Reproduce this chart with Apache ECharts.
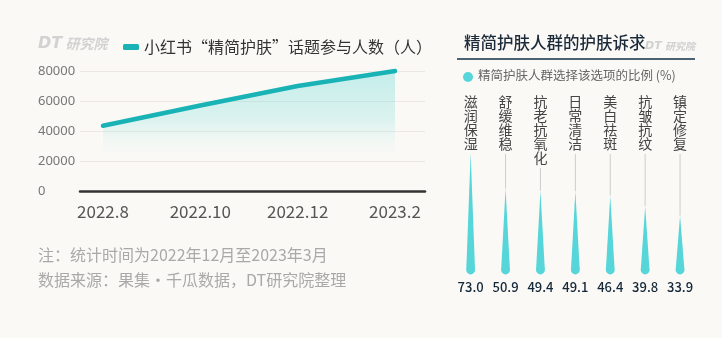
<!DOCTYPE html>
<html>
<head>
<meta charset="utf-8">
<script src="https://cdn.jsdelivr.net/npm/echarts@6/dist/echarts.min.js"></script>
<style>
  html, body { margin: 0; padding: 0; background: #fbf9f6; }
  #c { width: 722px; height: 338px; }
</style>
</head>
<body>
<div id="c"></div>
<script>
// Left panel: topic participants over time
const months = ['2022.8', '2022.10', '2022.12', '2023.2'];
const participants = [43500, 57000, 70000, 80000];
const yTicks = [0, 20000, 40000, 60000, 80000];
const lineName = '小红书“精简护肤”话题参与人数（人）';

// Right panel: skincare needs of the minimal-skincare group (%)
const needs = ['滋润保湿', '舒缓维稳', '抗老抗氧化', '日常清洁', '美白祛斑', '抗皱抗纹', '镇定修复'];
const shares = [73.0, 50.9, 49.4, 49.1, 46.4, 39.8, 33.9];

const notes = ['注：统计时间为2022年12月至2023年3月', '数据来源：果集·千瓜数据，DT研究院整理'];

const CJK = '"Noto Sans CJK SC", "Noto Sans", sans-serif';
const TEAL = '#19b3b6';
const DROP = '#57d6d9';

const chart = echarts.init(document.getElementById('c'), null, { renderer: 'canvas' });

function dropItem(params, api) {
  const i = api.value(0);
  const v = api.value(1);
  const tip = api.coord([i, v]);
  const base = api.coord([i, 0]);
  const cx = tip[0];
  const r = 4.4;
  const chars = needs[i].split('');
  const textTop = 95, lh = 14;
  const textBottom = textTop + chars.length * lh + 3;
  const children = [
    {
      type: 'text',
      style: {
        text: chars.join('\n'), x: cx, y: textTop,
        align: 'center', verticalAlign: 'top',
        fontSize: 14, lineHeight: lh, fontFamily: CJK, fill: '#444'
      }
    }
  ];
  if (tip[1] > textBottom) {
    children.push({
      type: 'line',
      shape: { x1: cx, y1: textBottom, x2: cx, y2: tip[1] },
      style: { stroke: '#cdcdcd', lineWidth: 1 }
    });
  }
  children.push({
    type: 'polygon',
    shape: { points: [[cx, tip[1]], [cx + r, base[1]], [cx - r, base[1]]] },
    style: { fill: DROP }
  });
  children.push({
    type: 'circle',
    shape: { cx: cx, cy: base[1], r: r },
    style: { fill: DROP }
  });
  children.push({
    type: 'text',
    style: {
      text: v.toFixed(1), x: cx, y: 287,
      align: 'center', verticalAlign: 'middle',
      fontSize: 13, fontWeight: 500, fontFamily: CJK, fill: '#14283a'
    }
  });
  return { type: 'group', children: children };
}

const option = {
  backgroundColor: '#fbf9f6',
  animation: false,
  textStyle: { fontFamily: CJK },
  legend: {
    data: [lineName],
    left: 118, top: 34,
    icon: 'roundRect', itemWidth: 16, itemHeight: 6,
    itemGap: 10,
    textStyle: { fontSize: 16, color: '#333', fontFamily: CJK }
  },
  grid: [
    { left: 80, top: 71, width: 345, height: 120 },
    { left: 453.2, top: 109.7, width: 244.3, height: 160.3 }
  ],
  xAxis: [
    {
      type: 'value', gridIndex: 0,
      min: -0.236, max: 3.308,
      axisLine: { show: true, lineStyle: { color: '#333', width: 2.5 } },
      axisTick: { show: false },
      splitLine: { show: false },
      axisLabel: {
        customValues: months.map((m, i) => i),
        formatter: v => months[Math.round(v)],
        fontSize: 17, color: '#555', margin: 12
      }
    },
    {
      type: 'category', gridIndex: 1,
      data: needs, show: false
    }
  ],
  yAxis: [
    {
      type: 'value', gridIndex: 0,
      min: yTicks[0], max: yTicks[yTicks.length - 1], interval: yTicks[1] - yTicks[0],
      axisLine: { show: false }, axisTick: { show: false },
      splitLine: { lineStyle: { color: '#ebe7e2', width: 1 } },
      axisLabel: {
        align: 'left', margin: 42, fontSize: 13, color: '#777',
        fontFamily: '"Noto Sans", sans-serif',
        formatter: v => String(v)
      }
    },
    {
      type: 'value', gridIndex: 1, min: 0, max: 100, show: false
    }
  ],
  series: [
    {
      name: lineName,
      type: 'line',
      xAxisIndex: 0, yAxisIndex: 0,
      data: participants.map((v, i) => [i, v]),
      showSymbol: false,
      clip: false,
      itemStyle: { color: TEAL },
      lineStyle: { color: TEAL, width: 4.5, cap: 'round', join: 'round' },
      areaStyle: {
        color: new echarts.graphic.LinearGradient(0, 0, 0, 1, [
          { offset: 0, color: 'rgba(105,218,214,0.55)' },
          { offset: 0.4, color: 'rgba(140,226,222,0.42)' },
          { offset: 0.72, color: 'rgba(200,240,238,0)' },
          { offset: 1, color: 'rgba(200,240,238,0)' }
        ])
      }
    },
    {
      type: 'custom',
      xAxisIndex: 1, yAxisIndex: 1,
      data: shares.map((v, i) => [i, v]),
      renderItem: dropItem,
      clip: false
    }
  ],
  graphic: [
    {
      type: 'text', left: 38, top: 36,
      style: {
        text: '{a|DT} {b|研究院}',
        rich: {
          a: { fontSize: 16, fontWeight: 900, fontStyle: 'italic', fill: '#d2d2d2', fontFamily: '"DejaVu Sans", sans-serif' },
          b: { fontSize: 14, fontWeight: 700, fontStyle: 'italic', fill: '#d2d2d2', fontFamily: CJK }
        }
      }
    },
    {
      type: 'text', left: 38, top: 247,
      style: { text: notes[0], fontSize: 16, fill: '#a9a9a9', fontFamily: CJK }
    },
    {
      type: 'text', left: 38, top: 272,
      style: { text: notes[1], fontSize: 16, fill: '#a9a9a9', fontFamily: CJK }
    },
    {
      type: 'text', left: 464, top: 34,
      style: { text: '精简护肤人群的护肤诉求', fontSize: 16.5, fontWeight: 500, fill: '#1c2b3a', fontFamily: CJK }
    },
    {
      type: 'text', left: 645, top: 40,
      style: {
        text: '{a|DT} {b|研究院}',
        rich: {
          a: { fontSize: 11, fontWeight: 900, fontStyle: 'italic', fill: '#d0d0d0', fontFamily: '"DejaVu Sans", sans-serif' },
          b: { fontSize: 10, fontWeight: 700, fontStyle: 'italic', fill: '#d0d0d0', fontFamily: CJK }
        }
      }
    },
    {
      type: 'line',
      shape: { x1: 457, y1: 59, x2: 695, y2: 59 },
      style: { stroke: '#4a6272', lineWidth: 2 }
    },
    {
      type: 'circle',
      shape: { cx: 468, cy: 77, r: 5 },
      style: { fill: DROP }
    },
    {
      type: 'text', left: 478, top: 69,
      style: { text: '精简护肤人群选择该选项的比例 (%)', fontSize: 12.5, fill: '#666', fontFamily: CJK }
    }
  ]
};

chart.setOption(option);
</script>
</body>
</html>
